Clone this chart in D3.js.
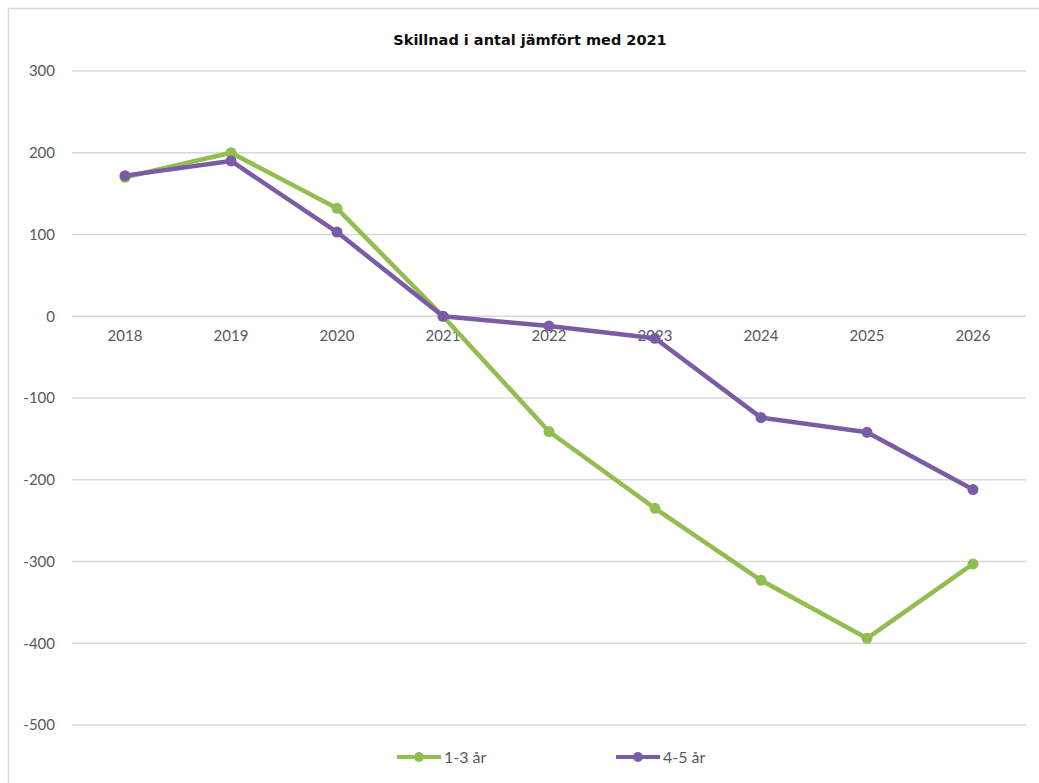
<!DOCTYPE html>
<html>
<head>
<meta charset="utf-8">
<script src="https://cdn.jsdelivr.net/npm/d3@7"></script>
<style>
  body { margin: 0; background: #fff; }
  svg { display: block; }
</style>
</head>
<body>
<svg id="chart"></svg>
<script>
// chart data
const years = ["2018", "2019", "2020", "2021", "2022", "2023", "2024", "2025", "2026"];
const seriesNames = ["1-3 år", "4-5 år"];
const values13 = [170, 200, 132, 0, -141, -235, -323, -394, -303];
const values45 = [172, 190, 103, 0, -12, -27, -124, -142, -212];
const yTicks = [300, 200, 100, 0, -100, -200, -300, -400, -500];
const colors = ["#92bd4f", "#7c5ba6"];

const config = {
    width: 1039,
    height: 783,
    margin: { top: 71, right: 13, bottom: 58, left: 72 }
};

const svg = d3.select("#chart")
    .attr("width", config.width)
    .attr("height", config.height);

const innerW = config.width - config.margin.left - config.margin.right;

// frame (cropped at right and bottom like the reference)
svg.append("rect")
    .attr("x", 8.5).attr("y", 8.5)
    .attr("width", 1100).attr("height", 900)
    .attr("fill", "none")
    .attr("stroke", "#d9d9d9")
    .attr("stroke-width", 1.5);

const chart = svg.append("g")
    .attr("transform", `translate(${config.margin.left},${config.margin.top})`);

const xScale = d3.scaleBand().domain(years).range([0, innerW]);
const yScale = d3.scaleLinear().domain([-500, 300]).range([654, 0]);

// gridlines
chart.append("g").selectAll("line")
    .data(yTicks)
    .join("line")
    .attr("x1", 0).attr("x2", innerW)
    .attr("y1", d => yScale(d)).attr("y2", d => yScale(d))
    .attr("stroke", "#d9d9d9")
    .attr("stroke-width", 1.5);

// y axis labels (plain hyphen for negatives)
const yAxis = d3.axisLeft(yScale)
    .tickValues(yTicks)
    .tickFormat(d => String(d))
    .tickSize(0)
    .tickPadding(17);
chart.append("g")
    .call(yAxis)
    .call(g => g.select(".domain").remove())
    .call(g => g.selectAll("text")
        .attr("fill", "#595959")
        .style("font-family", "Lato, sans-serif")
        .style("font-size", "15px"));

// x axis at zero
const xAxis = d3.axisBottom(xScale).tickSize(0).tickPadding(14);
chart.append("g")
    .attr("transform", `translate(0,${yScale(0)})`)
    .call(xAxis)
    .call(g => g.select(".domain").remove())
    .call(g => g.selectAll("text")
        .attr("fill", "#595959")
        .style("font-family", "Lato, sans-serif")
        .style("font-size", "15px"));

const xPos = d => xScale(d) + xScale.bandwidth() / 2;
const line = d3.line()
    .x(d => xPos(d.year))
    .y(d => yScale(d.value));

const series = [values13, values45].map((vals, i) => ({
    name: seriesNames[i],
    color: colors[i],
    points: vals.map((v, j) => ({ year: years[j], value: v }))
}));

series.forEach(s => {
    chart.append("path")
        .datum(s.points)
        .attr("d", line)
        .attr("fill", "none")
        .attr("stroke", s.color)
        .attr("stroke-width", 4.5)
        .attr("stroke-linejoin", "round");
    chart.append("g").selectAll("circle")
        .data(s.points)
        .join("circle")
        .attr("cx", d => xPos(d.year))
        .attr("cy", d => yScale(d.value))
        .attr("r", 5.5)
        .attr("fill", s.color);
});

// title
svg.append("text")
    .attr("x", 530)
    .attr("y", 45)
    .attr("text-anchor", "middle")
    .style("font-family", "'DejaVu Sans', sans-serif")
    .style("font-weight", 700)
    .style("font-size", "14.5px")
    .attr("fill", "#0d0d0d")
    .text("Skillnad i antal jämfört med 2021");

// legend
const legend = svg.append("g").attr("transform", "translate(0,757)");
const legendX = [397, 616];
series.forEach((s, i) => {
    const g = legend.append("g").attr("transform", `translate(${legendX[i]},0)`);
    g.append("line")
        .attr("x1", 0).attr("x2", 44)
        .attr("stroke", s.color)
        .attr("stroke-width", 4);
    g.append("circle").attr("cx", 22).attr("r", 5).attr("fill", s.color);
    g.append("text")
        .attr("x", 47).attr("y", 6)
        .attr("fill", "#595959")
        .style("font-family", "Lato, sans-serif")
        .style("font-size", "16px")
        .text(s.name);
});
</script>
</body>
</html>
